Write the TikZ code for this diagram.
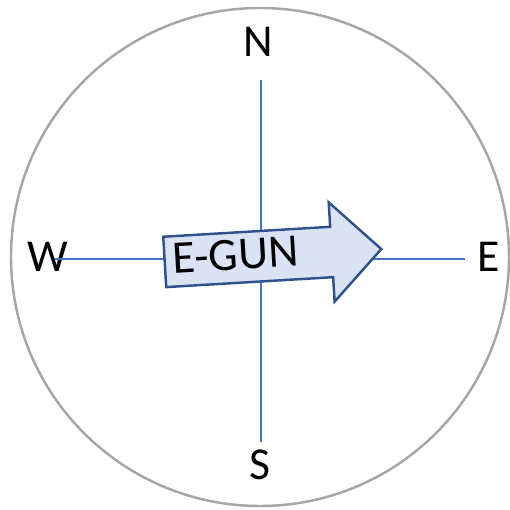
\documentclass[tikz,border=0pt]{standalone}
\usepackage{fontspec}
\setmainfont{Carlito}
\usetikzlibrary{
  arrows.meta,
  positioning,
  shapes.arrows
}
\definecolor{axiscolor}{RGB}{68,114,196}
\definecolor{ringcolor}{RGB}{166,166,166}
\definecolor{gunfill}{RGB}{218,227,243}
\definecolor{gundraw}{RGB}{47,82,143}

\begin{document}
\begin{tikzpicture}[x=0.02cm, y=0.02cm,
  compass/.style={font=\fontsize{26}{31}\selectfont, inner sep=0pt},
  axis/.style={draw=axiscolor, line width=0.8pt},
  gunarrow/.style={
    draw=gundraw, fill=gunfill, line width=1.4pt, single arrow,
    single arrow head extend=0.49cm, inner xsep=0pt, inner ysep=0.48cm,
    minimum height=4.34cm, shape border rotate=0
  }]

  \useasboundingbox (0,0) rectangle (510,510);

  % ---- Outer ring ----
  \draw[ringcolor, line width=1.4pt] (260,253) circle (249);

  % ---- Compass points ----
  \node[compass] (north) at (258,468) {N};
  \node[compass] (south) at (260,45) {S};
  \node[compass] (west) at (48,253) {W};
  \node[compass] (east) at (489,253) {E};

  % ---- Axes ----
  \coordinate (ntop) at (261,430);
  \coordinate (sbot) at (261,68);
  \coordinate (wend) at (55,251);
  \coordinate (eend) at (465,251);
  \draw[axis] (ntop) -- (sbot);
  \draw[axis] (wend) -- (eend);

  % ---- E-GUN arrow ----
  \node[gunarrow, anchor=tail, rotate=3.4] (gun) at (163.5,248) {};
  \node[font=\fontsize{26.5}{32}\selectfont, rotate=3.4, inner sep=0pt]
    (gunlabel) at (235.5,255) {E-GUN};

\end{tikzpicture}
\end{document}
